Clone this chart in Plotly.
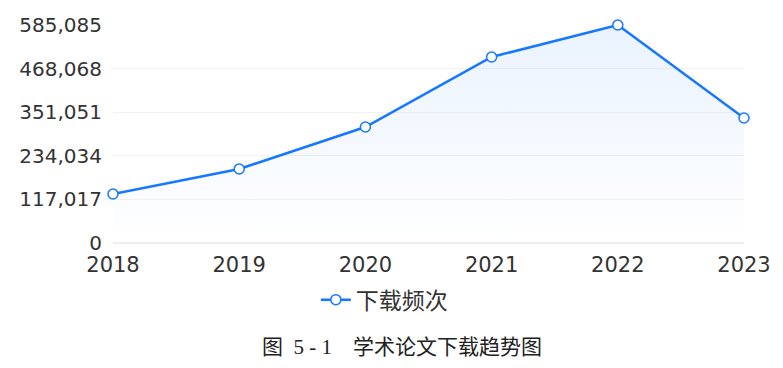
import plotly.graph_objects as go

years = ["2018", "2019", "2020", "2021", "2022", "2023"]
downloads = [131500, 198600, 311300, 499200, 585085, 335500]
y_ticks = [0, 117017, 234034, 351051, 468068, 585085]
series_name = "下载频次"
caption = "图  5 - 1    学术论文下载趋势图"

blue = "rgb(22,119,255)"
font_fam = "DejaVu Sans, Noto Sans CJK SC, sans-serif"

fig = go.Figure()
fig.add_trace(go.Scatter(
    x=years, y=downloads, name=series_name,
    mode="lines+markers",
    line=dict(color=blue, width=2.5),
    marker=dict(size=10, color="white", line=dict(color=blue, width=1.5)),
    fill="tozeroy",
    fillgradient=dict(type="vertical",
                      colorscale=[[0, "rgba(22,119,255,0.0)"], [1, "rgba(22,119,255,0.09)"]]),
    cliponaxis=False,
))

fig.update_layout(
    width=783, height=368,
    margin=dict(l=113, r=37, t=25, b=125),
    plot_bgcolor="white", paper_bgcolor="white",
    font=dict(family=font_fam, color="#333333", size=21),
    showlegend=True,
    legend=dict(orientation="h", x=0.43, xanchor="center", y=-0.26, yanchor="middle",
                font=dict(size=23, family="Noto Sans CJK SC", color="#333333")),
    xaxis=dict(type="category", range=[0, 5], showgrid=False, zeroline=False,
               showline=False, ticks="", ticklabelstandoff=7,
               tickfont=dict(size=21, color="#333333")),
    yaxis=dict(range=[0, 585085], tickvals=y_ticks, tickformat=",d",
               showgrid=True, gridcolor="#f2f2f2", gridwidth=1, zeroline=True,
               zerolinecolor="#eeeeee", showline=False, ticks="", ticklabelstandoff=10,
               tickfont=dict(size=20, color="#333333")),
    annotations=[dict(text=caption, xref="paper", yref="paper", x=0.458, y=-0.475,
                      xanchor="center", yanchor="middle", showarrow=False,
                      font=dict(family="Liberation Serif, Noto Sans CJK SC", size=21, color="#222222"))],
)

fig.write_html("out.html")
